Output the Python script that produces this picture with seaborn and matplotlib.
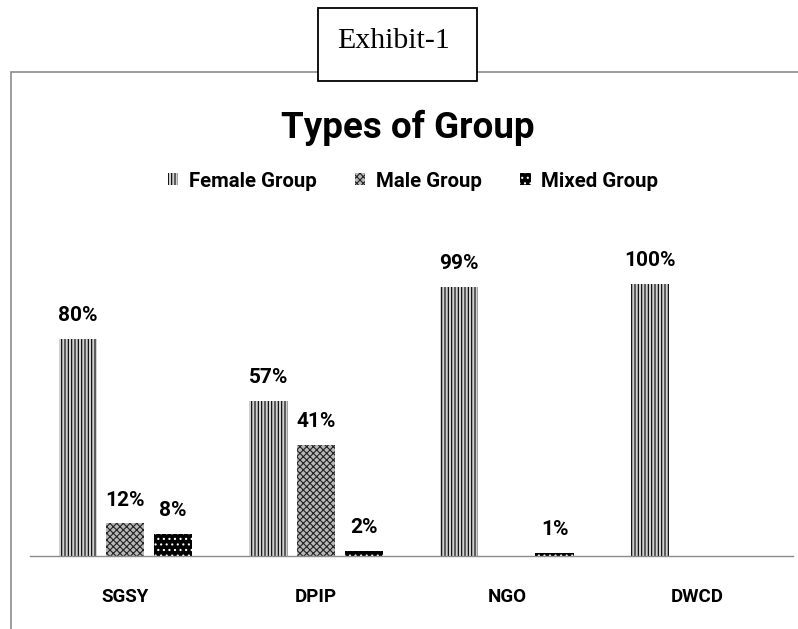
import pandas as pd
import seaborn as sns
import matplotlib.pyplot as plt
from matplotlib.patches import Rectangle, Patch

schemes = ['SGSY', 'DPIP', 'NGO', 'DWCD']
group_types = ['Female Group', 'Male Group', 'Mixed Group']
female = [0.80, 0.57, 0.99, 1.00]
male = [0.12, 0.41, 0.0, 0.0]
mixed = [0.08, 0.02, 0.01, 0.0]

df = pd.DataFrame({
    'Scheme': schemes * 3,
    'Type': [t for t in group_types for _ in schemes],
    'Share': female + male + mixed,
})

sns.set_style('white')
plt.rcParams['font.family'] = ['Roboto', 'DejaVu Sans']
plt.rcParams['text.color'] = 'black'
plt.rcParams['xtick.color'] = 'black'
plt.rcParams['hatch.linewidth'] = 0.8

# face, hatch colour, hatch
styles = {
    'Female Group': ('#d0d0d0', '#000000', '|||||'),
    'Male Group': ('#b8b8b8', '#222222', 'xxxxx'),
    'Mixed Group': ('#000000', '#ffffff', '...'),
}

fig = plt.figure(figsize=(7.98, 6.29), dpi=100)
ax = fig.add_axes([30 / 798, 73 / 629, 763 / 798, 326 / 629])

sns.barplot(data=df, x='Scheme', y='Share', hue='Type', hue_order=group_types,
            width=0.75, gap=0.2, ax=ax, legend=False)

for cont, t in zip(ax.containers, group_types):
    face, hc, hatch = styles[t]
    for bar in cont:
        bar.set_facecolor(face)
        bar.set_edgecolor(hc)
        bar.set_hatch(hatch)
        bar.set_linewidth(0)
    labels = [f'{v * 100:.0f}%' if v > 0 else '' for v in cont.datavalues]
    ax.bar_label(cont, labels=labels, padding=10, fontsize=15, fontweight='bold')

ax.set_ylim(0, 1.2)
ax.set_xlim(-0.5, 3.5)
ax.set_yticks([])
ax.set_xticks(range(len(schemes)), schemes, fontweight='bold', fontsize=13.5)
ax.set_xlabel('')
ax.set_ylabel('')
for side in ['top', 'left', 'right']:
    ax.spines[side].set_visible(False)
ax.spines['bottom'].set_color('#8c8c8c')
ax.spines['bottom'].set_linewidth(1)
ax.tick_params(axis='x', length=0, pad=23)

handles = [Patch(facecolor=styles[t][0], edgecolor=styles[t][1], hatch=styles[t][2],
                 linewidth=0, label=t) for t in group_types]
fig.legend(handles=handles, loc='center', bbox_to_anchor=(413 / 798, 1 - 181 / 629), ncol=3,
           frameon=False, prop={'weight': 'bold', 'size': 14.7}, handlelength=0.5,
           handleheight=0.5, handletextpad=0.5, columnspacing=1.9)

fig.text(408 / 798, 1 - 138 / 629, 'Types of Group', ha='center', va='baseline',
         fontsize=26.5, fontweight='bold')

# outer chart frame and the exhibit box
fig.patches.append(Rectangle((11 / 798, -0.01), 1.0, 1 - 72 / 629 + 0.01,
                             transform=fig.transFigure, fill=False,
                             edgecolor='#8c8c8c', linewidth=1.2))
fig.patches.append(Rectangle((318 / 798, 1 - 81 / 629), 159 / 798, 73 / 629,
                             transform=fig.transFigure, facecolor='white',
                             edgecolor='black', linewidth=1.3, zorder=5))
fig.text(393 / 798, 1 - 48 / 629, 'Exhibit-1', ha='center', va='baseline',
         fontsize=21.5, family='Liberation Serif', zorder=6)

fig.savefig('out.png', dpi=100)
